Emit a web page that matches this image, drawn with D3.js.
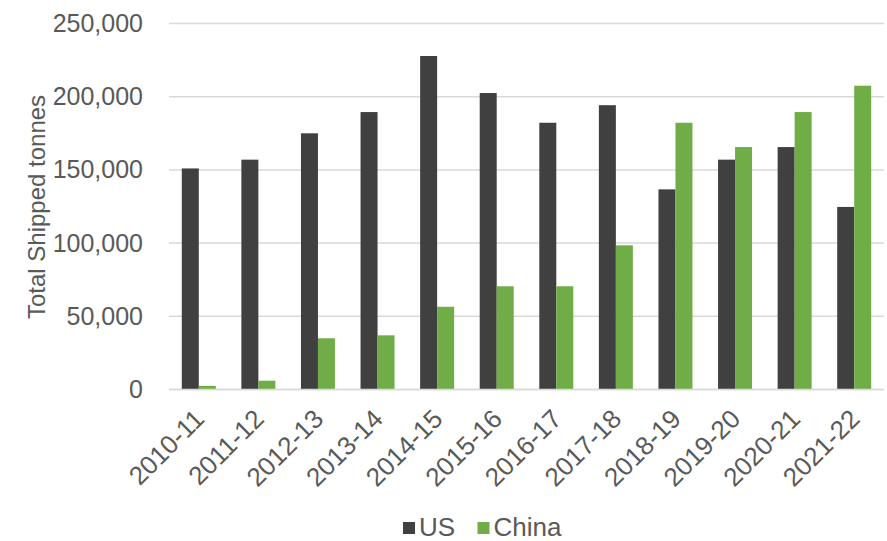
<!DOCTYPE html>
<html><head><meta charset="utf-8">
<script src="https://cdn.jsdelivr.net/npm/d3@7"></script>
<style>
html,body{margin:0;padding:0;background:#fff;}
text{font-family:"Liberation Sans",Arial,sans-serif;fill:#595959;}
</style></head>
<body><svg id="c" width="887" height="541"></svg>
<script>
const categories = ["2010-11","2011-12","2012-13","2013-14","2014-15","2015-16","2016-17","2017-18","2018-19","2019-20","2020-21","2021-22"];
const usValues = [151000,157000,175000,189500,227800,202500,182200,194200,136700,157000,165600,124700];
const chinaValues = [2500,6000,35000,37000,56500,70500,70500,98500,182200,165600,189500,207500];
const seriesNames = ["US","China"];
const seriesColors = ["#404040","#70AD47"];
const yTicks = [0,50000,100000,150000,200000,250000];
const yTitle = "Total Shipped tonnes";

const svg = d3.select("#c");
const m = {left:169, right:884, top:23.5, bottom:389.5};
const x = d3.scaleBand().domain(categories).range([m.left, m.right]).paddingInner(0).paddingOuter(0);
const inner = d3.scaleBand().domain(seriesNames).range([0, 34]).padding(0);
const y = d3.scaleLinear().domain([0,250000]).range([m.bottom, m.top]);
const fmt = d3.format(",");
const FONT = "'Liberation Sans',Arial,sans-serif";

// gridlines
svg.append("g").selectAll("line").data(yTicks).join("line")
  .attr("x1", m.left).attr("x2", m.right)
  .attr("y1", d=>y(d)).attr("y2", d=>y(d))
  .attr("stroke", "#D9D9D9").attr("stroke-width", 1.5);

// y axis labels
const yAxis = d3.axisLeft(y).tickValues(yTicks).tickFormat(fmt).tickSize(0).tickPadding(0);
const ya = svg.append("g").attr("transform", `translate(143,0)`).call(yAxis);
ya.select(".domain").remove();
ya.selectAll("text").style("font-size","25px").attr("fill","#595959").style("font-family",FONT);

// bars
const data = categories.map((c,i)=>({cat:c, vals:[usValues[i], chinaValues[i]]}));
const groups = svg.append("g").selectAll("g").data(data).join("g")
  .attr("transform", d=>`translate(${x(d.cat) + (x.bandwidth()-34)/2},0)`);
groups.selectAll("rect").data(d=>d.vals.map((v,j)=>({s:seriesNames[j], v, j}))).join("rect")
  .attr("x", d=>inner(d.s)).attr("width", inner.bandwidth())
  .attr("y", d=>y(d.v)).attr("height", d=>y(0)-y(d.v))
  .attr("fill", d=>seriesColors[d.j]);

// baseline
svg.append("line").attr("x1", m.left).attr("x2", m.right).attr("y1", y(0)).attr("y2", y(0))
  .attr("stroke","#D9D9D9").attr("stroke-width",1.5);

// x labels
const xAxis = d3.axisBottom(x).tickSize(0).tickPadding(0);
const xa = svg.append("g").attr("transform", `translate(0,${m.bottom})`).call(xAxis);
xa.select(".domain").remove();
xa.selectAll("text")
  .style("font-size","26px").attr("fill","#595959").style("font-family",FONT)
  .attr("text-anchor","end").attr("dy",null).attr("y",0)
  .attr("transform","translate(7,31) rotate(-45)");

// y title
svg.append("text").attr("transform","translate(44.5,207) rotate(-90)")
  .attr("text-anchor","middle").style("font-size","24px").text(yTitle);

// legend
const leg = svg.append("g");
const legX = [403, 477.5];
seriesNames.forEach((s,i)=>{
  leg.append("rect").attr("x", legX[i]).attr("y", 522).attr("width", 12).attr("height", 12).attr("fill", seriesColors[i]);
  leg.append("text").attr("x", legX[i]+16).attr("y", 535.5).style("font-size","26px").text(s);
});
</script></body></html>
